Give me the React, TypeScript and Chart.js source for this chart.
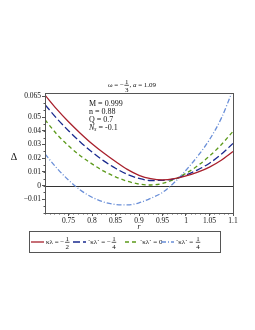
import React, { useEffect, useRef } from "react";
import { Chart, registerables } from "chart.js";

Chart.register(...registerables);

// r values (x axis)
const R = [0.7, 0.725, 0.75, 0.775, 0.8, 0.825, 0.85, 0.875, 0.9, 0.925, 0.95, 0.975, 1.0, 1.025, 1.05, 1.075, 1.1];
// Δ(r) for κλ = -1/2
const KL_NEG_HALF = [0.066, 0.0557, 0.0465, 0.0382, 0.0305, 0.0237, 0.0175, 0.0118, 0.0075, 0.005, 0.0041, 0.005, 0.007, 0.0098, 0.0135, 0.0185, 0.0248];
// Δ(r) for κλ = -1/4
const KL_NEG_QUARTER = [0.059, 0.049, 0.04, 0.0318, 0.0245, 0.018, 0.0126, 0.0082, 0.0052, 0.0037, 0.0038, 0.0049, 0.0077, 0.0115, 0.0163, 0.0228, 0.0307];
// Δ(r) for κλ = 0
const KL_ZERO = [0.048, 0.0375, 0.029, 0.0218, 0.0158, 0.0105, 0.0064, 0.0032, 0.0011, 0.0004, 0.0016, 0.0045, 0.0089, 0.0145, 0.0215, 0.0298, 0.0395];
// Δ(r) for κλ = 1/4
const KL_QUARTER = [0.023, 0.0128, 0.004, -0.0032, -0.0085, -0.012, -0.0138, -0.0141, -0.0126, -0.0093, -0.005, 0.0022, 0.0112, 0.0215, 0.0335, 0.049, 0.07];

const X_TICKS = [0.75, 0.8, 0.85, 0.9, 0.95, 1, 1.05, 1.1];
const Y_TICKS = [-0.01, 0, 0.01, 0.02, 0.03, 0.04, 0.05, 0.065];
const PARAMS = ["M = 0.999", "n = 0.88", "Q = 0.7"];

const COLORS = ["#a8202c", "#1a2a8f", "#5c9a1b", "#6a8fd8"];
const DASHES: number[][] = [[], [7, 3], [4, 3], [5, 2, 1, 2]];
const SERIES = [KL_NEG_HALF, KL_NEG_QUARTER, KL_ZERO, KL_QUARTER];

const SERIF = "'Liberation Serif', 'DejaVu Serif', serif";

function fmt(v: number): string {
  const s = String(Math.round(v * 10000) / 10000);
  return s.replace("-", "\u2212");
}

function drawFrac(ctx: CanvasRenderingContext2D, num: string, den: string, cx: number, cy: number, font: string) {
  ctx.font = font;
  const w = Math.max(ctx.measureText(num).width, ctx.measureText(den).width) + 1;
  ctx.textAlign = "center";
  ctx.textBaseline = "alphabetic";
  ctx.fillText(num, cx, cy - 1.5);
  ctx.textBaseline = "top";
  ctx.fillText(den, cx, cy + 1.2);
  ctx.beginPath();
  ctx.lineWidth = 0.7;
  ctx.moveTo(cx - w / 2, cy + 0.3);
  ctx.lineTo(cx + w / 2, cy + 0.3);
  ctx.stroke();
  return w;
}

const overlay = {
  id: "overlay",
  beforeDatasetsDraw(chart: any) {
    const { ctx, chartArea: a, scales } = chart;
    const y0 = Math.round(scales.y.getPixelForValue(0)) + 0.5;
    ctx.save();
    ctx.strokeStyle = "#333";
    ctx.lineWidth = 1;
    ctx.beginPath();
    ctx.moveTo(a.left, y0);
    ctx.lineTo(a.right, y0);
    ctx.stroke();
    ctx.restore();
  },
  afterDraw(chart: any) {
    const { ctx, chartArea: a, scales } = chart;
    const xs = scales.x;
    const ys = scales.y;
    ctx.save();
    // box
    ctx.strokeStyle = "#555";
    ctx.lineWidth = 1;
    ctx.strokeRect(Math.round(a.left) + 0.5, Math.round(a.top) + 0.5, Math.round(a.right - a.left), Math.round(a.bottom - a.top));
    // minor ticks
    ctx.beginPath();
    for (let v = 0.7; v <= 1.1001; v += 0.01) {
      const px = Math.round(xs.getPixelForValue(v)) + 0.5;
      ctx.moveTo(px, a.bottom);
      ctx.lineTo(px, a.bottom + 1.5);
    }
    for (let v = -0.02; v <= 0.0675; v += 0.005) {
      const py = Math.round(ys.getPixelForValue(v)) + 0.5;
      ctx.moveTo(a.left, py);
      ctx.lineTo(a.left - 1.5, py);
    }
    ctx.stroke();

    ctx.fillStyle = "#111";
    ctx.strokeStyle = "#111";
    // title
    const f7 = `7px ${SERIF}`;
    ctx.font = f7;
    const p1 = "\u03c9 = \u2212";
    const p2 = ", ";
    const p3 = " = 1.09";
    const w1 = ctx.measureText(p1).width;
    const w2 = ctx.measureText(p2).width;
    ctx.font = `italic 7px ${SERIF}`;
    const wa = ctx.measureText("a").width;
    ctx.font = f7;
    const w3 = ctx.measureText(p3).width;
    const wf = ctx.measureText("3").width + 2;
    const total = w1 + wf + w2 + wa + w3;
    let tx = 132 - total / 2;
    const ty = 85;
    ctx.textAlign = "left";
    ctx.textBaseline = "middle";
    ctx.fillText(p1, tx, ty);
    tx += w1;
    drawFrac(ctx, "1", "3", tx + wf / 2, ty, f7);
    tx += wf;
    ctx.textAlign = "left";
    ctx.textBaseline = "middle";
    ctx.font = f7;
    ctx.fillText(p2, tx, ty);
    tx += w2;
    ctx.font = `italic 7px ${SERIF}`;
    ctx.fillText("a", tx, ty);
    tx += wa;
    ctx.font = f7;
    ctx.fillText(p3, tx, ty);

    // axis labels
    ctx.font = `10px ${SERIF}`;
    ctx.textAlign = "center";
    ctx.textBaseline = "middle";
    ctx.fillText("\u0394", 14, 157);
    ctx.font = `italic 7.5px ${SERIF}`;
    ctx.fillText("r", (a.left + a.right) / 2, 227.5);

    // params
    ctx.font = `8px ${SERIF}`;
    ctx.textAlign = "left";
    ctx.textBaseline = "middle";
    PARAMS.forEach((s, i) => ctx.fillText(s, 89, 103.5 + i * 8));
    const ny = 103.5 + 3 * 8;
    ctx.font = `italic 8px ${SERIF}`;
    ctx.fillText("N", 89, ny);
    const nw = ctx.measureText("N").width;
    ctx.font = `italic 5.5px ${SERIF}`;
    ctx.fillText("s", 89 + nw, ny + 2.5);
    const sw = ctx.measureText("s").width;
    ctx.font = `8px ${SERIF}`;
    ctx.fillText(" = -0.1", 89 + nw + sw, ny);

    // legend
    ctx.strokeStyle = "#555";
    ctx.lineWidth = 1;
    ctx.strokeRect(29.5, 231.5, 191, 21);
    const ly = 242;
    const items = [
      { x0: 31, label: "\u03ba\u03bb = \u2212", frac: ["1", "2"] },
      { x0: 73, label: "`\u03ba\u03bb` = \u2212", frac: ["1", "4"] },
      { x0: 125, label: "`\u03ba\u03bb` = 0", frac: null },
      { x0: 161, label: "`\u03ba\u03bb` = ", frac: ["1", "4"] },
    ];
    items.forEach((it, i) => {
      ctx.save();
      ctx.strokeStyle = COLORS[i];
      ctx.lineWidth = 1.3;
      ctx.setLineDash(DASHES[i]);
      ctx.beginPath();
      ctx.moveTo(it.x0, ly);
      ctx.lineTo(it.x0 + 13, ly);
      ctx.stroke();
      ctx.restore();
      ctx.fillStyle = "#111";
      ctx.strokeStyle = "#111";
      ctx.font = f7;
      ctx.textAlign = "left";
      ctx.textBaseline = "middle";
      const lx = it.x0 + 15;
      ctx.fillText(it.label, lx, ly);
      const lw = ctx.measureText(it.label).width;
      if (it.frac) {
        drawFrac(ctx, it.frac[0], it.frac[1], lx + lw + 3, ly, f7);
      }
    });
    ctx.restore();
  },
};

export default function App() {
  const ref = useRef<HTMLCanvasElement | null>(null);
  useEffect(() => {
    if (!ref.current) return;
    const tickFont = { family: SERIF, size: 7.5 };
    const chart = new Chart(ref.current, {
      type: "line",
      data: {
        datasets: SERIES.map((s, i) => ({
          label: String(i),
          data: R.map((r, j) => ({ x: r, y: s[j] })),
          borderColor: COLORS[i],
          borderWidth: 1.3,
          borderDash: DASHES[i],
          pointRadius: 0,
          fill: false,
          cubicInterpolationMode: "monotone" as const,
        })),
      },
      options: {
        responsive: false,
        animation: false,
        layout: { padding: { left: 0, top: 93, right: 22, bottom: 0 } },
        plugins: { legend: { display: false }, title: { display: false }, tooltip: { enabled: false } },
        scales: {
          x: {
            type: "linear",
            min: 0.7,
            max: 1.1,
            afterBuildTicks: (s: any) => {
              s.ticks = X_TICKS.map((v) => ({ value: v }));
            },
            afterFit: (s: any) => {
              s.height = 117;
            },
            ticks: { font: tickFont, color: "#111", padding: 1, maxRotation: 0, autoSkip: false, callback: (v: any) => fmt(Number(v)) },
            grid: { drawOnChartArea: false, drawTicks: true, tickLength: 3, color: "#555" },
            border: { display: false },
          },
          y: {
            type: "linear",
            min: -0.02,
            max: 0.0675,
            afterBuildTicks: (s: any) => {
              s.ticks = Y_TICKS.map((v) => ({ value: v }));
            },
            afterFit: (s: any) => {
              s.width = 45;
            },
            ticks: { font: tickFont, color: "#111", padding: 1, autoSkip: false, callback: (v: any) => fmt(Number(v)) },
            grid: { drawOnChartArea: false, drawTicks: true, tickLength: 3, color: "#555" },
            border: { display: false },
          },
        },
      },
      plugins: [overlay],
    });
    return () => chart.destroy();
  }, []);
  return (
    <div style={{ position: "fixed", left: 0, top: 0, width: 255, height: 330, background: "#fff" }}>
      <canvas ref={ref} width={255} height={330} style={{ width: 255, height: 330, display: "block" }} />
    </div>
  );
}
